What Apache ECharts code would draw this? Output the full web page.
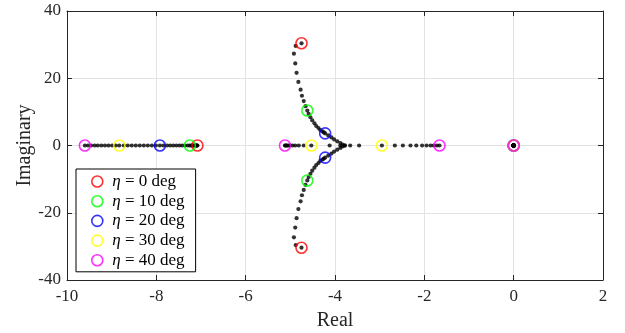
<!DOCTYPE html>
<html>
<head>
<meta charset="utf-8">
<script src="https://cdn.jsdelivr.net/npm/echarts@6/dist/echarts.min.js"></script>
<style>
  html, body { margin: 0; padding: 0; background: #fff; }
  #chart { width: 625px; height: 333px; }
</style>
</head>
<body>
<div id="chart"></div>
<script>
// Root locus of the closed-loop poles as the angle eta sweeps 0..40 deg (1 deg steps).
const etaSteps = [0,1,2,3,4,5,6,7,8,9,10,11,12,13,14,15,16,17,18,19,20,
                  21,22,23,24,25,26,27,28,29,30,31,32,33,34,35,36,37,38,39,40];

// Far-left real pole, one value per eta step
const farPole = [-7.08,-7.09,-7.10,-7.11,-7.12,-7.14,-7.16,-7.18,-7.20,-7.22,-7.25,
                 -7.30,-7.36,-7.42,-7.48,-7.55,-7.62,-7.69,-7.76,-7.84,-7.92,
                 -8.01,-8.10,-8.19,-8.28,-8.37,-8.46,-8.55,-8.64,-8.73,-8.83,
                 -8.91,-8.99,-9.07,-9.15,-9.23,-9.31,-9.38,-9.46,-9.53,-9.60];

// Complex-conjugate pair while it exists (eta = 0..27)
const pairRe = [-4.75,-4.88,-4.92,-4.89,-4.86,-4.82,-4.77,-4.74,-4.70,-4.66,-4.62,
                -4.59,-4.55,-4.51,-4.46,-4.42,-4.37,-4.33,-4.28,-4.25,-4.22,
                -4.15,-4.08,-4.02,-3.95,-3.88,-3.83,-3.78];
const pairIm = [30.4,29.6,27.3,24.4,21.6,18.9,16.6,14.8,13.2,11.7,10.4,
                9.4,8.4,7.5,6.6,5.8,5.2,4.6,4.2,3.9,3.6,
                3.0,2.4,1.8,1.25,0.75,0.3,0.08];

// After the break-in point the pair splits into two real poles (eta = 28..40)
const splitLeft  = [-3.88,-4.12,-4.53,-4.70,-4.81,-4.89,-4.95,-5.00,-5.04,-5.07,-5.09,-5.11,-5.12];
const splitRight = [-3.66,-3.46,-2.95,-2.66,-2.48,-2.31,-2.18,-2.05,-1.95,-1.86,-1.79,-1.72,-1.66];

// Pole fixed at the origin
const originPole = 0;

// Highlighted eta values and their marker colours
const markedEta = [0, 10, 20, 30, 40];
const markColors = ['#ff0000', '#00ff00', '#0000ff', '#ffff00', '#ff00ff'];

const xTicks = { min: -10, max: 2, interval: 2 };
const yTicks = { min: -40, max: 40, interval: 20 };

// Collect all poles for one eta step
function polesAt(k) {
  const pts = [[farPole[k], 0]];
  if (k < pairRe.length) {
    pts.push([pairRe[k], pairIm[k]], [pairRe[k], -pairIm[k]]);
  } else {
    const j = k - pairRe.length;
    pts.push([splitLeft[j], 0], [splitRight[j], 0]);
  }
  pts.push([originPole, 0]);
  return pts;
}

const locusPts = [];
etaSteps.forEach((e, k) => { polesAt(k).forEach(p => locusPts.push(p)); });

const serif = '"Liberation Serif", "Times New Roman", serif';
const axisCol = '#262626';

const series = [{
  type: 'scatter',
  name: 'locus',
  data: locusPts,
  symbol: 'circle',
  symbolSize: 4.2,
  itemStyle: { color: '#000' },
  z: 2,
  silent: true
}];

markedEta.forEach((e, i) => {
  const k = etaSteps.indexOf(e);
  series.push({
    type: 'scatter',
    name: 'η = ' + e + ' deg',
    data: polesAt(k),
    symbol: 'circle',
    symbolSize: 11,
    itemStyle: { color: 'rgba(0,0,0,0)', borderColor: markColors[i], borderWidth: 1.6 },
    z: 3 + i,
    silent: true
  });
});

const chart = echarts.init(document.getElementById('chart'), null, { renderer: 'canvas' });

const gridLine = { show: true, lineStyle: { color: '#e3e3e3', width: 1 } };

chart.setOption({
  animation: false,
  backgroundColor: '#fff',
  grid: { left: 67, right: 22, top: 11, bottom: 53, containLabel: false, outerBoundsMode: 'none' },
  legend: {
    orient: 'vertical',
    left: 76,
    top: 169,
    padding: [4, 11, 3, 15],
    backgroundColor: '#fff',
    borderColor: '#000',
    borderWidth: 1,
    borderRadius: 0,
    itemWidth: 20,
    itemHeight: 11,
    itemGap: 2.7,
    itemTextGap: 20,
    selectedMode: false,
    data: markedEta.map((e, i) => ({
      name: 'η = ' + e + ' deg',
      icon: 'circle',
      itemStyle: { color: '#fff', borderColor: markColors[i], borderWidth: 1.6 }
    })),
    formatter: name => name.replace('η', '{e|η}'),
    textStyle: {
      fontFamily: serif, fontSize: 17, color: '#000', lineHeight: 14,
      rich: { e: { fontFamily: serif, fontStyle: 'italic', fontSize: 17, color: '#000', lineHeight: 14 } }
    }
  },
  xAxis: [{
    type: 'value', position: 'bottom', ...xTicks,
    name: 'Real', nameLocation: 'middle', nameGap: 31,
    nameTextStyle: { fontFamily: serif, fontSize: 20, color: axisCol },
    axisLine: { show: true, onZero: false, lineStyle: { color: axisCol, width: 1 } },
    axisTick: { show: true, inside: true, length: 5, lineStyle: { color: axisCol } },
    axisLabel: { fontFamily: serif, fontSize: 17, color: axisCol, margin: 8 },
    splitLine: gridLine
  }, {
    type: 'value', position: 'top', ...xTicks,
    axisLine: { show: true, onZero: false, lineStyle: { color: axisCol, width: 1 } },
    axisTick: { show: true, inside: true, length: 5, lineStyle: { color: axisCol } },
    axisLabel: { show: false },
    splitLine: { show: false }
  }],
  yAxis: [{
    type: 'value', position: 'left', ...yTicks,
    name: 'Imaginary', nameLocation: 'middle', nameGap: 32, nameRotate: 90,
    nameMoveOverlap: false,
    nameTextStyle: { fontFamily: serif, fontSize: 20, color: axisCol },
    axisLine: { show: true, onZero: false, lineStyle: { color: axisCol, width: 1 } },
    axisTick: { show: true, inside: true, length: 5, lineStyle: { color: axisCol } },
    axisLabel: { fontFamily: serif, fontSize: 17, color: axisCol, margin: 6 },
    splitLine: gridLine
  }, {
    type: 'value', position: 'right', ...yTicks,
    axisLine: { show: true, onZero: false, lineStyle: { color: axisCol, width: 1 } },
    axisTick: { show: true, inside: true, length: 5, lineStyle: { color: axisCol } },
    axisLabel: { show: false },
    splitLine: { show: false }
  }],
  series: series
});
</script>
</body>
</html>
